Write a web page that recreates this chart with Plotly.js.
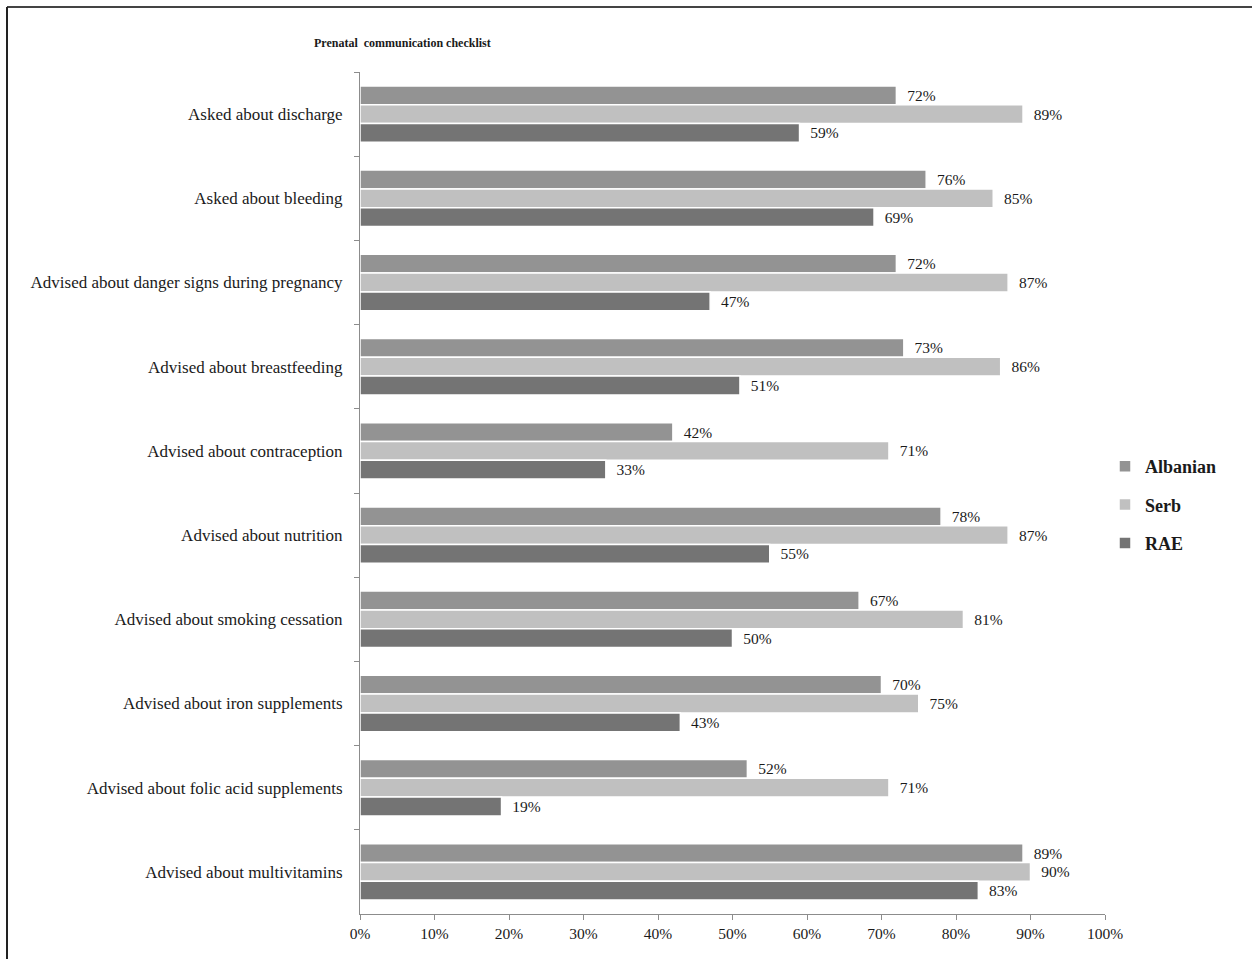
<!DOCTYPE html>
<html>
<head>
<meta charset="utf-8">
<script src="https://cdn.plot.ly/plotly-3.0.1.min.js"></script>
<style>
html,body{margin:0;padding:0;background:#fff;}
#chart{width:1252px;height:959px;}
</style>
</head>
<body>
<div id="chart"></div>
<script>
var categories = [
  "Asked about discharge",
  "Asked about bleeding",
  "Advised about danger signs during pregnancy",
  "Advised about breastfeeding",
  "Advised about contraception",
  "Advised about nutrition",
  "Advised about smoking cessation",
  "Advised about iron supplements",
  "Advised about folic acid supplements",
  "Advised about multivitamins"
];
var albanian = [72, 76, 72, 73, 42, 78, 67, 70, 52, 89];
var serb     = [89, 85, 87, 86, 71, 87, 81, 75, 71, 90];
var rae      = [59, 69, 47, 51, 33, 55, 50, 43, 19, 83];
var seriesNames = ["Albanian", "Serb", "RAE"];
var seriesColors = ["#939393", "#c0c0c0", "#747474"];
var xTickVals = [0,10,20,30,40,50,60,70,80,90,100];

var serif = "Liberation Serif, Times New Roman, serif";
var txt = "#1a1a1a";

var data = [albanian, serb, rae].map(function(vals, i){
  return {
    type: "bar",
    orientation: "h",
    name: seriesNames[i],
    legendgroup: "g" + i,
    x: vals,
    y: categories,
    text: vals.map(function(v){ return "\u2002" + v + "%"; }),
    textposition: "outside",
    cliponaxis: false,
    textfont: {family: serif, size: 15.5, color: txt},
    marker: {color: seriesColors[i], line: {color: "#ffffff", width: 1.5}},
    hoverinfo: "x+y+name"
  };
});

var layout = {
  width: 1252,
  height: 959,
  paper_bgcolor: "#ffffff",
  plot_bgcolor: "#ffffff",
  margin: {l: 360, r: 147, t: 72, b: 45},
  barmode: "group",
  bargap: 0.33,
  bargroupgap: 0,
  showlegend: true,
  font: {family: serif, color: txt},
  title: {
    text: "<b>Prenatal\u00a0 communication checklist</b>",
    font: {family: serif, size: 12, color: txt},
    xref: "container", yref: "container",
    x: 314/1252, xanchor: "left",
    y: 1 - 43/959, yanchor: "middle"
  },
  xaxis: {
    range: [0, 100],
    tickvals: xTickVals,
    ticktext: xTickVals.map(function(v){ return v + "%"; }),
    showgrid: false,
    zeroline: false,
    showline: true,
    linecolor: "#8c8c8c",
    linewidth: 1,
    ticks: "outside",
    ticklen: 5,
    tickcolor: "#8c8c8c",
    tickfont: {family: serif, size: 15.5, color: txt},
    fixedrange: true
  },
  yaxis: {
    type: "category",
    autorange: "reversed",
    showgrid: false,
    zeroline: false,
    showline: true,
    linecolor: "#8c8c8c",
    linewidth: 1,
    ticks: "outside",
    tickson: "boundaries",
    ticklen: 5,
    tickcolor: "#8c8c8c",
    ticklabelstandoff: 13,
    tickfont: {family: serif, size: 17, color: txt},
    fixedrange: true
  },
  legend: {
    x: 1.0,
    xanchor: "left",
    y: 0.5 - 12/842,
    yanchor: "middle",
    traceorder: "grouped",
    tracegroupgap: 12,
    font: {family: serif, size: 18, color: txt, weight: "bold"},
    bgcolor: "rgba(0,0,0,0)",
    itemwidth: 30
  },
  shapes: [
    {type: "line", xref: "paper", yref: "paper", x0: -353/745, x1: 1 + 147/745, y0: 1 + 65/842, y1: 1 + 65/842, line: {color: "#444444", width: 2}},
    {type: "line", xref: "paper", yref: "paper", x0: -353/745, x1: -353/745, y0: 1 + 65/842, y1: -45/842, line: {color: "#222222", width: 2}}
  ]
};

Plotly.newPlot("chart", data, layout, {displayModeBar: false, staticPlot: true});
</script>
</body>
</html>
